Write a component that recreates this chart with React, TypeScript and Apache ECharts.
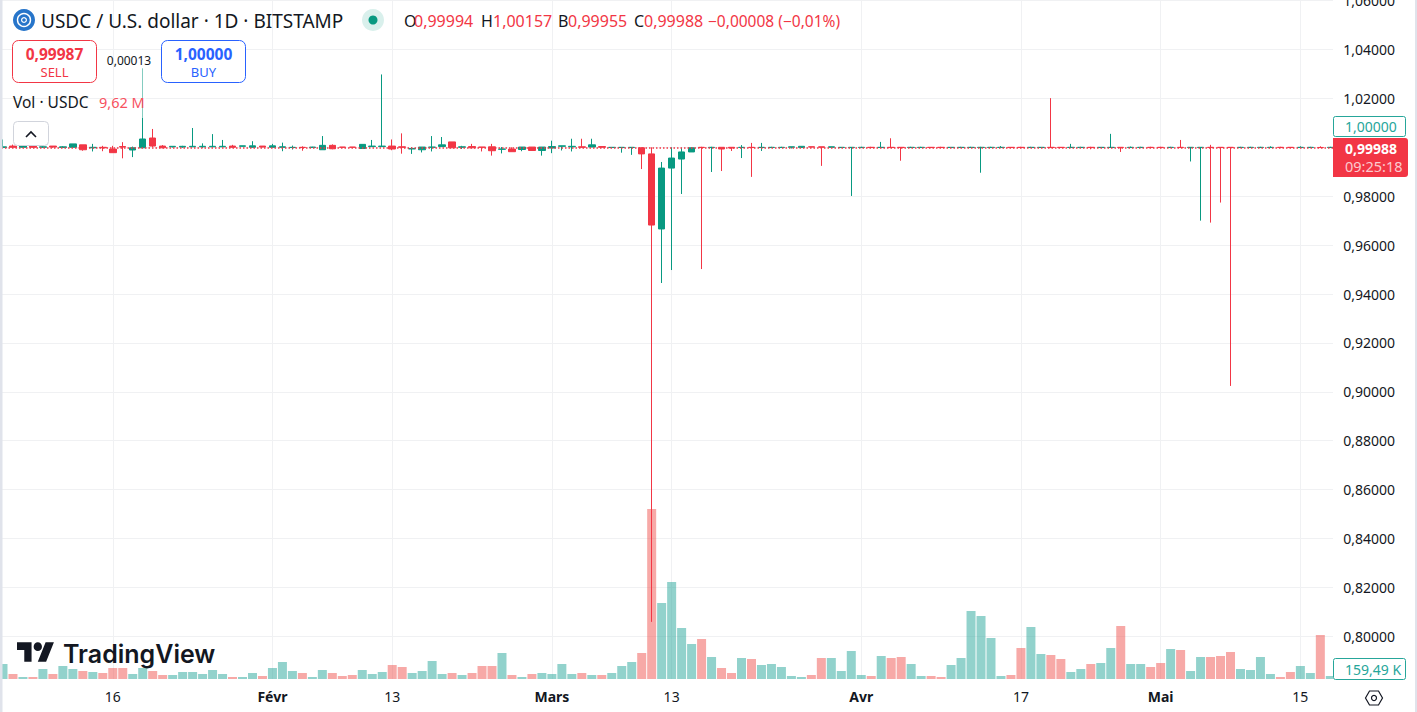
import React, { useEffect, useRef } from "react";
import * as echarts from "echarts";

const FONT = '"Noto Sans", sans-serif';
const TEAL = "#089981";
const RED = "#f23645";
const INK = "#131722";

const startDate = "2023-01-05";
const tickLabels: Record<string, string> = {
  "2023-01-16": "16",
  "2023-02-01": "Févr",
  "2023-02-13": "13",
  "2023-03-01": "Mars",
  "2023-03-13": "13",
  "2023-04-01": "Avr",
  "2023-04-17": "17",
  "2023-05-01": "Mai",
  "2023-05-15": "15",
};
const monthTicks = ["Févr", "Mars", "Avr", "Mai"];

const opens = [
  0.9999, 1.0005, 1.0, 1.0005, 1.0, 1.0005, 0.9999, 1.0, 1.001, 0.9998,
  1.0, 0.9993, 1.0003, 0.9989, 0.9998, 1.0038, 1.0005, 1.0002, 1.0001, 1.0002,
  1.0002, 1.0002, 1.0002, 1.0005, 1.0004, 1.0, 1.0005, 1.0, 1.0, 0.9999,
  1.0, 0.9999, 0.999, 1.0008, 1.0001, 1.0001, 0.9995, 1.0003, 1.0003, 1.0005,
  1.0002, 0.9993, 0.999, 1.0, 1.0003, 1.0022, 1.0, 1.0003, 1.0001, 1.0002,
  0.9992, 0.9993, 0.9991, 1.0001, 0.9987, 0.9997, 1.0004, 1.0002, 1.0002, 1.0001,
  1.0003, 0.9999, 0.9999, 0.9999, 0.9998, 0.9973, 0.9666, 0.9915, 0.9952, 0.9981,
  1.0, 0.9999, 1.0, 1.0, 0.9999, 1.0, 0.9999, 0.9999, 0.9999, 1.0,
  0.9999, 1.0002, 1.0002, 1.0, 0.9999, 0.9999, 0.9999, 1.0, 0.9999, 1.0,
  1.0, 0.9999, 0.9999, 1.0, 1.0, 0.9999, 0.9999, 0.9999, 0.9999, 0.9999,
  0.9999, 1.0, 1.0, 0.9999, 0.9999, 1.0, 1.0, 0.9999, 0.9999, 1.0,
  0.9999, 0.9999, 1.0, 0.9999, 0.9999, 1.0, 1.0, 0.9999, 1.0, 0.9999,
  0.9999, 1.0, 1.0, 1.0, 0.9999, 0.9999, 0.9999, 0.9999, 1.0, 1.0,
  0.9999, 0.9999, 0.99994, 0.9999,
];
const closes = [
  1.0002, 1.0, 1.0006, 1.0, 1.0002, 1.0001, 1.0002, 1.0014, 0.999, 1.0,
  0.9998, 0.9978, 1.0001, 0.9998, 1.0034, 1.0005, 0.9998, 1.0004, 1.0004, 1.0004,
  1.0004, 1.0004, 1.0004, 1.0, 1.0006, 1.0006, 1.0001, 1.0006, 1.0002, 1.0,
  0.9999, 1.0001, 1.0008, 0.9994, 1.0, 1.0, 1.0012, 1.0005, 1.0005, 0.9993,
  1.0, 0.9995, 1.0001, 1.0001, 1.001, 0.9998, 1.0002, 0.9998, 1.0, 0.9986,
  0.9993, 0.9982, 1.0001, 0.9987, 1.0001, 1.0003, 1.0006, 1.0004, 1.0, 1.001,
  1.0, 1.0, 1.0, 1.0, 0.9973, 0.9682, 0.9915, 0.9956, 0.9981, 0.9998,
  0.9999, 1.0, 0.9993, 0.9997, 1.0, 0.9999, 1.0, 1.0, 1.0, 1.0002,
  1.0004, 1.0001, 1.0, 1.0002, 1.0, 1.0, 1.0, 0.9999, 1.0, 0.9999,
  0.9999, 1.0, 1.0, 0.9999, 0.9999, 1.0, 1.0, 1.0, 1.0, 1.0,
  1.0, 0.9999, 0.9999, 1.0, 1.0, 0.9999, 0.9999, 1.0, 1.0, 0.9999,
  1.0, 1.0, 0.9999, 1.0, 1.0, 0.9999, 0.9999, 1.0, 0.9999, 1.0,
  1.0, 0.9999, 0.9999, 0.9999, 1.0, 1.0, 1.0, 1.0, 0.9999, 0.9999,
  1.0, 1.0, 0.99988, 1.0,
];
const lows = [
  0.9998, 0.9997, 0.9998, 0.9998, 0.9997, 0.9998, 0.9999, 0.9999, 0.9986, 0.9983,
  0.9984, 0.9978, 0.9955, 0.996, 0.9998, 1.0001, 0.9997, 0.9999, 0.9998, 1.0001,
  0.9998, 1.0, 1.0001, 0.9999, 1.0003, 0.9999, 1.0, 0.9999, 0.9984, 0.9991,
  0.9986, 0.9999, 0.999, 0.9992, 0.9999, 0.9999, 0.9994, 1.0003, 1.0003, 0.9988,
  0.9974, 0.9973, 0.9979, 0.9983, 1.0003, 0.9997, 0.9993, 0.9998, 0.9983, 0.9966,
  0.9975, 0.9982, 0.9984, 0.9987, 0.9966, 0.9976, 0.9987, 0.9983, 1.0, 1.0001,
  1.0, 0.9999, 0.9978, 0.9969, 0.9911, 0.8059, 0.9445, 0.9498, 0.9809, 0.9981,
  0.9502, 0.9899, 0.9903, 0.9985, 0.9956, 0.9879, 0.9985, 0.9998, 0.9998, 0.9995,
  0.9999, 1.0, 0.9924, 0.9998, 0.9998, 0.9801, 0.9998, 0.9998, 0.9998, 0.9998,
  0.9945, 0.9998, 0.9998, 0.9998, 0.9998, 0.9998, 0.9998, 0.9998, 0.9896, 0.9998,
  0.9998, 0.9998, 0.9998, 0.9998, 0.9998, 0.9998, 0.9998, 0.9998, 0.9998, 0.9992,
  0.9998, 0.9998, 0.9981, 0.9998, 0.9998, 0.9998, 0.9998, 0.9998, 0.9998, 0.9942,
  0.97, 0.9692, 0.9774, 0.9024, 0.9998, 0.9998, 0.9998, 0.9998, 0.9998, 0.9998,
  0.9998, 0.9998, 0.9998, 0.9998,
];
const highs = [
  1.0032, 1.0011, 1.0006, 1.0006, 1.0005, 1.0005, 1.0005, 1.0014, 1.001, 1.0014,
  1.0006, 1.0006, 1.0021, 1.0003, 1.0323, 1.0075, 1.0009, 1.0004, 1.0006, 1.0079,
  1.0016, 1.0054, 1.003, 1.001, 1.0006, 1.0025, 1.0005, 1.0014, 1.0019, 1.0007,
  1.0004, 1.0002, 1.0046, 1.0012, 1.0001, 1.0001, 1.0012, 1.003, 1.0298, 1.0032,
  1.0057, 1.0, 1.0001, 1.0046, 1.0042, 1.0022, 1.0006, 1.0014, 1.0001, 1.0014,
  1.0001, 1.0, 1.0001, 1.0001, 1.0001, 1.0027, 1.0006, 1.0035, 1.0035, 1.0035,
  1.0004, 1.0, 1.0, 1.0, 1.0, 1.0, 0.994, 1.0, 0.9998, 0.9999,
  1.0002, 1.0002, 1.0, 1.0, 1.0009, 1.0018, 1.0018, 1.0002, 1.0002, 1.0002,
  1.0004, 1.0002, 1.0002, 1.0002, 1.0001, 1.0001, 1.0002, 1.0002, 1.0022, 1.0037,
  1.0001, 1.0002, 1.0002, 1.0001, 1.0002, 1.0001, 1.0002, 1.0002, 1.0002, 1.0002,
  1.0005, 1.0001, 1.0002, 1.0002, 1.0001, 1.0201, 1.0, 1.0014, 1.0002, 1.0002,
  1.0001, 1.0055, 1.0001, 1.0003, 1.0002, 1.0002, 1.0002, 1.0002, 1.003, 1.0001,
  1.0001, 1.001, 1.0001, 1.0001, 1.0002, 1.0002, 1.0002, 1.0004, 1.0002, 1.0001,
  1.0004, 1.0002, 1.0004, 1.0002,
];
// Volume, in units of about 220 K (the bar of 9,62 M is 44 units).
const volumes = [
  15, 5, 2, 2, 10, 5, 13, 10, 8, 7,
  6, 11, 11, 5, 11, 8, 4, 4, 7, 7,
  5, 9, 5, 2, 2, 6, 3, 11, 17, 8,
  6, 2, 9, 6, 3, 4, 9, 5, 7, 14,
  12, 6, 8, 18, 5, 6, 4, 6, 13, 13,
  26, 4, 2, 5, 6, 5, 15, 5, 6, 4,
  4, 6, 13, 17, 26, 170, 76, 97, 51, 35,
  40, 22, 11, 6, 21, 20, 14, 15, 12, 3,
  2, 4, 21, 21, 8, 28, 4, 3, 23, 21,
  22, 15, 3, 3, 2, 14, 21, 68, 63, 41,
  3, 4, 31, 52, 25, 24, 20, 7, 10, 15,
  16, 31, 53, 15, 15, 12, 16, 30, 29, 8,
  22, 22, 23, 27, 10, 9, 22, 5, 2, 7,
  13, 6, 44, 3,
];
const lastClose = 0.99988;

const logoPath =
  "M14 22H7V11H0V4h14v18zM28 22h-8l7.5-18h8L28 22zM16 8a4 4 0 1 0 8 0a4 4 0 1 0 -8 0z";
echarts.graphic.registerShape("tvlogo", echarts.graphic.extendPath(logoPath as any, {}) as any);

const dates = opens.map((_, i) => {
  const d = new Date(startDate + "T00:00:00Z");
  d.setUTCDate(d.getUTCDate() + i);
  return d.toISOString().slice(0, 10);
});

const txt = (text: string, x: number, y: number, size: number, fill: string, extra: any = {}) => ({
  type: "text",
  z: 101,
  style: {
    text,
    x,
    y,
    fill,
    font: `${extra.weight || 400} ${size}px ${extra.family || FONT}`,
    textAlign: extra.align || "left",
    textVerticalAlign: "middle",
    opacity: extra.opacity ?? 1,
  },
});
const box = (x: number, y: number, w: number, h: number, fill: string, stroke: string, r: any = 6, opacity = 1) => ({
  type: "rect",
  z: 100,
  shape: { x, y, width: w, height: h, r },
  style: { fill, stroke, lineWidth: stroke === "none" ? 0 : 1, opacity },
});

const graphics: any[] = [
  box(1333, 0, 7, 682, "#ffffff", "none", 0),
  box(0, 0, 2.5, 712, "#e0e3eb", "none", 0),
  box(1415, 0, 2, 712, "#e0e3eb", "none", 0),
  // header
  { type: "circle", z: 100, shape: { cx: 24, cy: 20, r: 11 }, style: { fill: "#2775ca" } },
  { type: "circle", z: 101, shape: { cx: 24, cy: 20, r: 6.5 }, style: { fill: "none", stroke: "#ffffff", lineWidth: 1.4 } },
  { type: "circle", z: 101, shape: { cx: 24, cy: 20, r: 2.4 }, style: { fill: "none", stroke: "#ffffff", lineWidth: 1.2 } },
  txt("USDC / U.S. dollar · 1D · BITSTAMP", 41, 21, 19, INK),
  { type: "circle", z: 100, shape: { cx: 373, cy: 20, r: 11 }, style: { fill: "#d9f0ec" } },
  { type: "circle", z: 101, shape: { cx: 373, cy: 20, r: 4.5 }, style: { fill: TEAL } },
  txt("O", 404, 21, 16, INK),
  txt("0,99994", 414, 21, 16, RED),
  txt("H", 481, 21, 16, INK),
  txt("1,00157", 493, 21, 16, RED),
  txt("B", 558, 21, 16, INK),
  txt("0,99955", 568, 21, 16, RED),
  txt("C", 634, 21, 16, INK),
  txt("0,99988", 644, 21, 16, RED),
  txt("−0,00008 (−0,01%)", 708, 21, 15.5, RED),
  // buy / sell
  box(12.5, 40.5, 84, 42, "#ffffff", RED),
  txt("0,99987", 54.5, 53.5, 15.5, RED, { align: "center", weight: 700 }),
  txt("SELL", 54.5, 71.5, 13, RED, { align: "center" }),
  txt("0,00013", 129, 60.5, 12, INK, { align: "center" }),
  box(161.5, 40.5, 84, 42, "#ffffff", "#2962ff"),
  txt("1,00000", 203.5, 53.5, 15.5, "#2962ff", { align: "center", weight: 700 }),
  txt("BUY", 203.5, 71.5, 13, "#2962ff", { align: "center" }),
  // veil of the legend over the tall wick
  box(140, 68, 6, 50, "#ffffff", "none", 0, 0.5),
  txt("Vol · USDC", 13, 102, 15.5, INK),
  txt("9,62 M", 99, 102, 14.5, "#f7525f"),
  box(13.5, 121.5, 35, 24, "#ffffff", "#d1d4dc", 4),
  {
    type: "polyline",
    z: 101,
    shape: { points: [[26, 137], [31, 132], [36, 137]] },
    style: { fill: "none", stroke: INK, lineWidth: 1.6 },
  },
  // right scale tags
  box(1333.5, 116.5, 72, 20, "#ffffff", "#26a69a", 2),
  txt("1,00000", 1345, 126, 14, "#26a69a"),
  box(1333, 138, 75, 39, RED, "none", [0, 3, 3, 0]),
  txt("0,99988", 1345, 148, 14, "#ffffff", { weight: 700 }),
  txt("09:25:18", 1345, 166, 14.5, "#ffffff", { opacity: 0.75 }),
  box(1333.5, 658.5, 72, 21, "#ffffff", "#26a69a", 2),
  txt("159,49 K", 1345, 669, 14, "#26a69a"),
  // settings hexagon
  {
    type: "polygon",
    z: 100,
    shape: { points: [[1365.5, 698], [1369.5, 691], [1378.5, 691], [1382.5, 698], [1378.5, 705], [1369.5, 705]] },
    style: { fill: "none", stroke: INK, lineWidth: 1.2 },
  },
  { type: "circle", z: 100, shape: { cx: 1374, cy: 698, r: 2.5 }, style: { fill: "none", stroke: INK, lineWidth: 1.2 } },
  // logo
  { type: "tvlogo", z: 100, x: 17, y: 638, scaleX: 1.04, scaleY: 1.08, style: { fill: INK } },
  txt("TradingView", 63, 654, 25, INK, { weight: 600, family: "Inter, sans-serif" }),
];

export default function App() {
  const ref = useRef<HTMLDivElement>(null);
  useEffect(() => {
    const chart = echarts.init(ref.current!, null, { renderer: "svg" });
    const isTick = (_: number, v: string) => v in tickLabels;
    chart.setOption({
      animation: false,
      backgroundColor: "#ffffff",
      textStyle: { fontFamily: FONT },
      grid: [
        { left: -2, top: 0.6, width: 1337.3, height: 684.6, containLabel: false, outerBoundsMode: "none" },
        { left: -2, top: 0, width: 1337.3, height: 679, containLabel: false, outerBoundsMode: "none" },
      ],
      xAxis: [
        { type: "category", gridIndex: 0, data: dates, show: false },
        {
          type: "category",
          gridIndex: 1,
          data: dates,
          axisLine: { show: false },
          axisTick: { show: false },
          splitLine: {
            show: true,
            interval: isTick,
            alignWithLabel: true,
            lineStyle: { color: "#f0f1f3", width: 1 },
          },
          axisLabel: {
            interval: isTick,
            margin: 10,
            fontSize: 14,
            color: INK,
            formatter: (v: string) => {
              const t = tickLabels[v] || "";
              return monthTicks.includes(t) ? `{b|${t}}` : t;
            },
            rich: { b: { fontWeight: 700, fontSize: 14, color: INK, fontFamily: FONT } },
          },
        },
      ],
      yAxis: [
        {
          type: "value",
          gridIndex: 0,
          position: "right",
          min: 0.78,
          max: 1.06,
          interval: 0.02,
          axisLine: { show: false },
          axisTick: { show: false },
          splitLine: { show: true, showMinLine: false, lineStyle: { color: "#f0f1f3", width: 1 } },
          axisLabel: {
            margin: 8,
            fontSize: 14,
            color: INK,
            padding: [0, 0, 2, 0],
            showMinLabel: false,
            showMaxLabel: true,
            formatter: (v: number) => (Math.abs(v - 1) < 1e-6 ? "" : v.toFixed(5).replace(".", ",")),
          },
        },
        { type: "value", gridIndex: 1, min: 0, max: 679, show: false },
      ],
      series: [
        {
          type: "bar",
          xAxisIndex: 1,
          yAxisIndex: 1,
          barWidth: 9,
          data: volumes.map((v, i) => ({
            value: v,
            itemStyle: { color: closes[i] >= opens[i] ? "rgba(38,166,154,0.5)" : "rgba(239,83,80,0.5)" },
          })),
        },
        {
          type: "candlestick",
          xAxisIndex: 0,
          yAxisIndex: 0,
          barWidth: 7,
          data: opens.map((o, i) => [o, closes[i], lows[i], highs[i]]),
          itemStyle: { color: TEAL, color0: RED, borderColor: TEAL, borderColor0: RED, borderWidth: 1 },
          markLine: {
            silent: true,
            symbol: "none",
            animation: false,
            label: { show: false },
            lineStyle: { color: RED, type: [1.5, 2], width: 1.5 },
            data: [{ yAxis: lastClose }],
          },
        },
      ],
      graphic: graphics,
    });
    return () => chart.dispose();
  }, []);
  return (
    <div
      ref={ref}
      style={{ position: "absolute", left: 0, top: 0, width: 1417, height: 712 }}
    />
  );
}
